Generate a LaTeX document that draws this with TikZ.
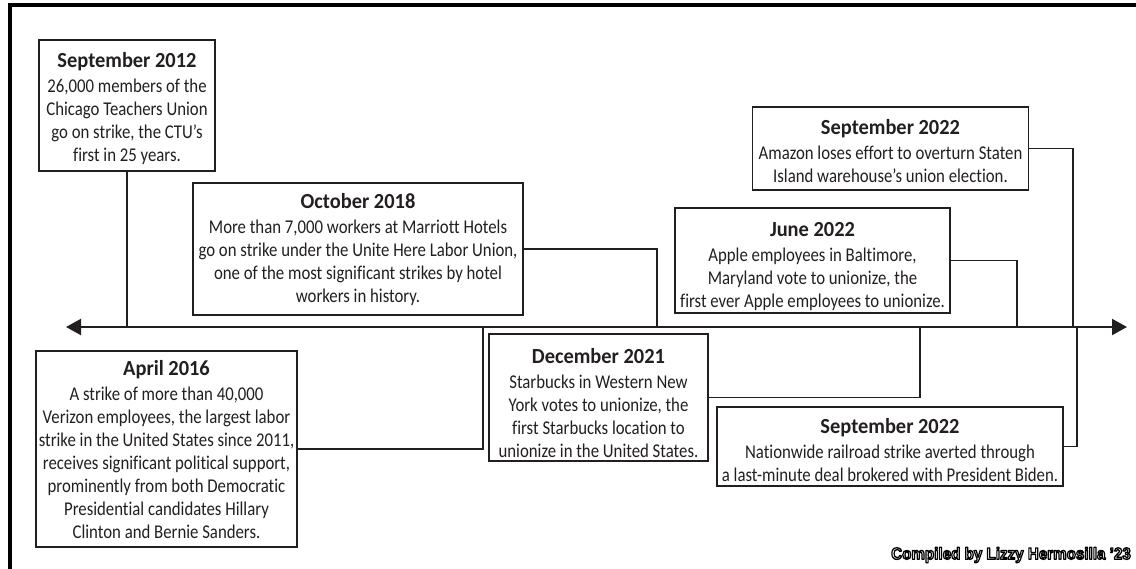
\documentclass[tikz,border=0pt]{standalone}
\usepackage{fontspec}
\setmainfont{Carlito}[FakeStretch=0.86, Ligatures=NoCommon]
\newfontfamily\hdfont{Carlito}[FakeStretch=0.95, Ligatures=NoCommon]
\newfontfamily\credfont{Liberation Sans}
\usetikzlibrary{arrows.meta}
\definecolor{ink}{HTML}{231F20}
\tikzset{
  evbox/.style={draw=ink, line width=1.6pt, fill=white, align=center, text=ink,
    inner sep=0pt, font=\fontsize{19.5}{23}\selectfont},
  link/.style={draw=ink, line width=1.6pt},
  axis/.style={draw=ink, line width=2.2pt, {Triangle[length=15pt,width=16pt]}-{Triangle[length=15pt,width=16pt]}},
  frame/.style={draw=black, line width=4pt},
}
\newcommand{\hd}[2][16]{{\hdfont\fontsize{21.5}{23}\selectfont\bfseries\rule{0pt}{#1pt}#2}\\[2pt]}
\newcommand{\outlined}[1]{\special{pdf:literal direct 2 Tr 1 j 1.3 w 0 G}#1\special{pdf:literal direct 0 Tr}}
\begin{document}
\begin{tikzpicture}[x=1pt,y=-1pt]
\useasboundingbox (0,0) rectangle (1136,569);
\draw[frame] (10,575) -- (10,5) -- (1145,5);

\coordinate (L) at (66,327);
\coordinate (R) at (1127,327);
\draw[axis] (L) -- (R);

\coordinate (t1) at (127,327);
\coordinate (t2) at (483,327);
\coordinate (t3) at (657,327);
\coordinate (t4) at (920,327);
\coordinate (t5) at (1017,327);
\coordinate (t6) at (1073,327);
\coordinate (t7) at (1077,327);

\node[evbox, minimum width=176pt, minimum height=131pt] (sep12) at (127,105.5)
  {\hd[22]{September 2012}26,000 members of the\\Chicago Teachers Union\\go on strike, the CTU’s\\first in 25 years.};
\node[evbox, minimum width=330pt, minimum height=132pt] (oct18) at (358,249)
  {\hd{October 2018}More than 7,000 workers at Marriott Hotels\\go on strike under the Unite Here Labor Union,\\one of the most significant strikes by hotel\\workers in history.};
\node[evbox, minimum width=261pt, minimum height=196pt] (apr16) at (166.5,449)
  {\hd{April 2016}A strike of more than 40,000\\Verizon employees, the largest labor\\strike in the United States since 2011,\\receives significant political support,\\prominently from both Democratic\\Presidential candidates Hillary\\Clinton and Bernie Sanders.};
\node[evbox, minimum width=219pt, minimum height=127pt] (dec21) at (598.5,397.5)
  {\hd[26]{December 2021}Starbucks in Western New\\York votes to unionize, the\\first Starbucks location to\\unionize in the United States.};
\node[evbox, minimum width=275pt, minimum height=105pt] (jun22) at (812.5,260.5)
  {\hd[26]{June 2022}Apple employees in Baltimore,\\Maryland vote to unionize, the\\first ever Apple employees to unionize.};
\node[evbox, minimum width=276pt, minimum height=83pt] (amz22) at (890.5,148.5)
  {\hd[20]{September 2022}Amazon loses effort to overturn Staten\\Island warehouse’s union election.};
\node[evbox, minimum width=346pt, minimum height=79pt] (rail22) at (890,446.5)
  {\hd[22]{September 2022}Nationwide railroad strike averted through\\a last-minute deal brokered with President Biden.};

\draw[link] (sep12.south) -- (t1);
\draw[link] (apr16.east) -| (t2);
\draw[link] (oct18.east) -| (t3);
\draw[link] (dec21.east) -| (t4);
\draw[link] (jun22.east) -| (t5);
\draw[link] (amz22.east) -| (t6);
\draw[link] (rail22.east) -| (t7);

\node[anchor=east, inner sep=0pt, text=white, font=\credfont\bfseries\fontsize{16.5}{18}\selectfont] (credit) at (1131,555)
  {\scalebox{0.92}[1]{\outlined{Compiled by Lizzy Hermosilla ’23}}};
\end{tikzpicture}
\end{document}
